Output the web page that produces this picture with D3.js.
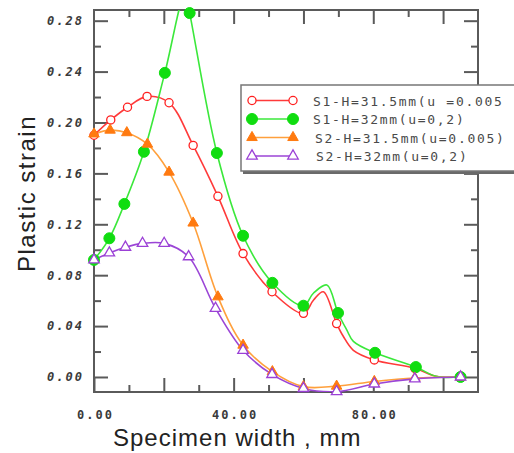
<!DOCTYPE html>
<html><head><meta charset="utf-8">
<script src="https://cdn.jsdelivr.net/npm/d3@7"></script>
<style>
html,body{margin:0;padding:0;background:#fff;}
svg{display:block;}
</style></head>
<body>
<svg id="chart" width="514" height="453"></svg>
<script>
// ---- data ----
const xMajorTicks = [0, 20, 40, 60, 80, 100];
const xMinorTicks = [10, 30, 50, 70, 90];
const xLabelTicks = [0, 40, 80];
const yMajorTicks = [0, 0.04, 0.08, 0.12, 0.16, 0.20, 0.24, 0.28];
const yMinorTicks = [0.02, 0.06, 0.10, 0.14, 0.18, 0.22, 0.26];

const seriesNames = ["S1-H=31.5mm(u =0.005", "S1-H=32mm(u=0,2)", "S2-H=31.5mm(u=0.005)", "S2-H=32mm(u=0,2)"];

const s1X = [0, 4.8, 9.6, 15.2, 21.5, 28.4, 35.5, 42.7, 51, 60, 62.9, 65.7, 69.5, 71.4, 74.3, 80.3, 91.9, 98, 105];
const s1Y = [0.190, 0.202, 0.212, 0.2205, 0.2155, 0.182, 0.142, 0.097, 0.067, 0.050, 0.0605, 0.067, 0.042, 0.032, 0.021, 0.0134, 0.0068, 0.0005, 0];
const s1M = [1,1,1,1,1,1,1,1,1,1,0,0,1,0,0,1,1,0,1];

const s2X = [0, 4.4, 8.7, 14.3, 20.3, 26.1, 27.4, 35.2, 42.7, 51.1, 60, 62.9, 66.7, 69.9, 72.4, 74.3, 80.5, 92.2, 98, 105];
const s2Y = [0.092, 0.109, 0.136, 0.177, 0.239, 0.302, 0.286, 0.176, 0.111, 0.074, 0.056, 0.066, 0.0723, 0.0503, 0.037, 0.028, 0.019, 0.0078, 0.0005, 0];
const s2M = [1,1,1,1,1,0,1,1,1,1,1,0,0,1,0,0,1,1,0,1];

const s3X = [0, 4.6, 9.4, 15.3, 21.5, 28.4, 35.5, 42.7, 51.1, 60, 69.5, 80.3, 91.9, 105];
const s3Y = [0.191, 0.194, 0.192, 0.183, 0.161, 0.121, 0.063, 0.025, 0.0042, -0.0076, -0.0072, -0.0035, -0.0008, 0];
const s3M = [1,1,1,1,1,1,1,1,1,1,1,1,1,1];

const s4X = [0, 4.4, 9.0, 13.9, 20.1, 27.1, 34.8, 42.7, 51, 60, 69.5, 80.3, 91.9, 105];
const s4Y = [0.092, 0.0975, 0.102, 0.105, 0.105, 0.0945, 0.054, 0.021, 0.002, -0.009, -0.0115, -0.0055, -0.0015, 0];
const s4M = [1,1,1,1,1,1,1,1,1,1,1,1,1,1];

// ---- layout ----
const svg = d3.select("#chart");
const L = 94, R = 478, T = 10, B = 392;
const x = d3.scaleLinear().domain([0, 110]).range([L, R]);
const y = d3.scaleLinear().domain([-0.0118, 0.2884]).range([B, T]);

const styles = [
  {line: "#ff3a3a", stroke: "#ff2020", fill: "#fff", shape: d3.symbolCircle, size: 52, sw: 1.3},
  {line: "#3be83b", stroke: "#10dd10", fill: "#10dd10", shape: d3.symbolCircle, size: 95, sw: 1},
  {line: "#ffa03c", stroke: "#ff7a10", fill: "#ff7a10", shape: d3.symbolTriangle, size: 48, sw: 1},
  {line: "#9b45d6", stroke: "#9b40d6", fill: "#fff", shape: d3.symbolTriangle, size: 48, sw: 1.3}
];
const series = [[s1X, s1Y, s1M], [s2X, s2Y, s2M], [s3X, s3Y, s3M], [s4X, s4Y, s4M]].map((s, i) => ({
  pts: s[0].map((xv, j) => ({x: xv, y: s[1][j], m: s[2][j]})),
  st: styles[i], name: seriesNames[i]
}));

svg.append("defs").append("clipPath").attr("id", "clip")
  .append("rect").attr("x", L).attr("y", T).attr("width", R - L).attr("height", B - T);

// frame
svg.append("rect").attr("x", L).attr("y", T).attr("width", R - L).attr("height", B - T)
  .attr("fill", "none").attr("stroke", "#5a5a5a").attr("stroke-width", 2);

const tickCol = "#5a5a5a";
function tickAxis(gen, tx, ty) {
  const g = svg.append("g").attr("transform", `translate(${tx},${ty})`).call(gen);
  g.select(".domain").remove();
  g.selectAll("line").attr("stroke", tickCol).attr("stroke-width", 2);
  g.selectAll("text").remove();
}
// inward ticks on all sides
tickAxis(d3.axisBottom(x).tickValues(xMajorTicks).tickSize(-14), 0, B);
tickAxis(d3.axisBottom(x).tickValues(xMinorTicks).tickSize(-7), 0, B);
tickAxis(d3.axisTop(x).tickValues(xMajorTicks.filter(d => d > 0)).tickSize(-14), 0, T);
tickAxis(d3.axisTop(x).tickValues(xMinorTicks).tickSize(-7), 0, T);
tickAxis(d3.axisLeft(y).tickValues(yMajorTicks).tickSize(-14), L, 0);
tickAxis(d3.axisLeft(y).tickValues(yMinorTicks).tickSize(-7), L, 0);
tickAxis(d3.axisRight(y).tickValues(yMajorTicks).tickSize(-14), R, 0);
tickAxis(d3.axisRight(y).tickValues(yMinorTicks).tickSize(-7), R, 0);

// tick labels
const yl = svg.append("g").attr("transform", `translate(${L},0)`)
  .call(d3.axisLeft(y).tickValues(yMajorTicks).tickSize(0).tickPadding(10).tickFormat(d3.format(".2f")));
yl.select(".domain").remove();
yl.selectAll("text").attr("font-family", "DejaVu Sans Mono").attr("font-weight", "bold")
  .attr("font-style", "italic").attr("font-size", 12).attr("letter-spacing", 2).attr("fill", "#3a3a3a");

const xl = svg.append("g").attr("transform", `translate(0,${B})`)
  .call(d3.axisBottom(x).tickValues(xLabelTicks).tickSize(0).tickPadding(18).tickFormat(d3.format(".2f")));
xl.select(".domain").remove();
xl.selectAll("text").attr("font-family", "DejaVu Sans Mono").attr("font-weight", "bold")
  .attr("font-size", 12).attr("letter-spacing", 2).attr("fill", "#3a3a3a").attr("dx", 1);

// axis titles
svg.append("text").attr("x", 113).attr("y", 446).text("Specimen width , mm")
  .attr("font-family", "Liberation Sans, Arial").attr("font-size", 24).attr("letter-spacing", 1).attr("fill", "#222");
svg.append("text").attr("transform", "translate(35,272) rotate(-90)").text("Plastic strain")
  .attr("font-family", "Liberation Sans, Arial").attr("font-size", 24).attr("letter-spacing", 1.5).attr("fill", "#222");

// lines
const lineGen = d3.line().x(d => x(d.x)).y(d => y(d.y)).curve(d3.curveCatmullRom.alpha(0.5));
const plot = svg.append("g");
series.forEach(s => {
  plot.append("path").datum(s.pts).attr("d", lineGen).attr("fill", "none")
    .attr("stroke", s.st.line).attr("stroke-width", 1.6).attr("clip-path", "url(#clip)");
});
series.forEach(s => {
  plot.selectAll(null).data(s.pts.filter(d => d.m)).enter().append("path")
    .attr("transform", d => `translate(${x(d.x)},${y(d.y)})`)
    .attr("d", d3.symbol().type(s.st.shape).size(s.st.size))
    .attr("fill", s.st.fill).attr("stroke", s.st.stroke).attr("stroke-width", s.st.sw);
});

// legend
const lg = svg.append("g");
lg.append("rect").attr("x", 243).attr("y", 87).attr("width", 290).attr("height", 87).attr("fill", "#6a6a6a");
lg.append("rect").attr("x", 241).attr("y", 85).attr("width", 290).attr("height", 86)
  .attr("fill", "#fff").attr("stroke", "#777").attr("stroke-width", 1.5);
const rowY = [100.5, 119, 137.5, 156];
const textX = [313, 313, 315, 316];
series.forEach((s, i) => {
  const ry = rowY[i];
  lg.append("line").attr("x1", 252).attr("x2", 293).attr("y1", ry).attr("y2", ry)
    .attr("stroke", s.st.line).attr("stroke-width", 1.6);
  [252, 293].forEach(px => {
    lg.append("path").attr("transform", `translate(${px},${ry})`)
      .attr("d", d3.symbol().type(s.st.shape).size(s.st.size))
      .attr("fill", s.st.fill).attr("stroke", s.st.stroke).attr("stroke-width", s.st.sw);
  });
  lg.append("text").attr("x", textX[i]).attr("y", ry + 5).text(s.name)
    .attr("font-family", "DejaVu Sans Mono").attr("font-size", 13).attr("letter-spacing", 1.7)
    .attr("fill", "#4a4a4a");
});
</script>
</body></html>
